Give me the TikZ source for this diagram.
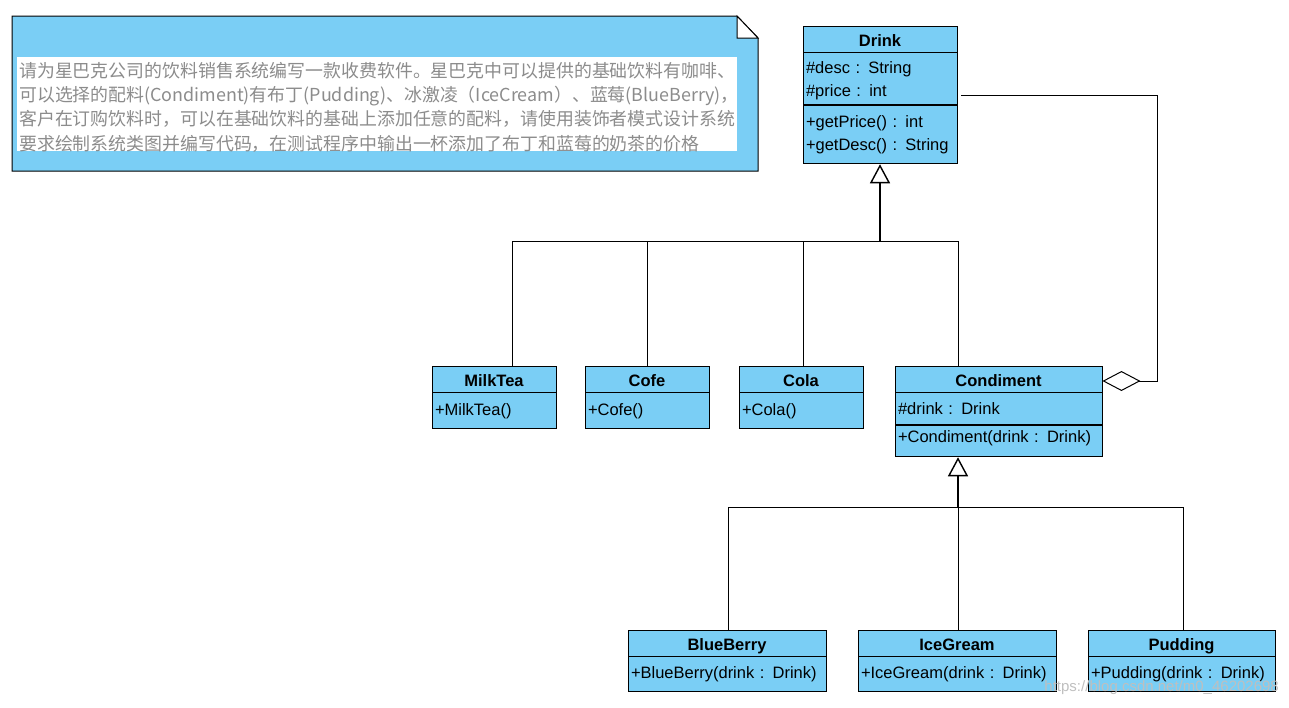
\documentclass[tikz,border=0pt]{standalone}
\usepackage{fontspec}
\setmainfont{Liberation Sans}
\newfontfamily\cjk{Noto Sans CJK SC}
\usepackage{xcolor}
\usetikzlibrary{arrows.meta,positioning,calc}
\definecolor{umlblue}{RGB}{122,206,245}
\definecolor{notegray}{RGB}{140,140,140}

\tikzset{
  cls/.style = {draw, fill = umlblue, line width = .9pt, inner sep = 0pt},
  clshead/.style = {cls, minimum height = 26, text height = 15.5pt, text depth = 0pt, font = \bfseries\fontsize{16.5}{18}\selectfont},
  clsbody/.style = {cls, anchor = north, align = left, inner xsep = 3pt, font = \fontsize{16.5}{23}\selectfont},
  gen/.style = {line width = 1pt},
  inherit/.style = {line width = 2pt, -{Triangle[open, width = 20pt, length = 19pt, line width = 1.4pt]}},
  aggr/.style = {line width = 1pt, {Diamond[open, width = 20pt, length = 38pt, line width = 1pt]}-}
}

\begin{document}
\begin{tikzpicture}[x = 1pt, y = -1pt]
    \useasboundingbox (0,0) rectangle (1289,707);
    % Note
    \draw[fill = umlblue, line width = 1pt] (12,16) -- (737,16) -- (758,38) -- (758,171) -- (12,171) -- cycle;
    \draw[fill = white, line width = 1pt] (737,16) -- (737,38) -- (758,38) -- cycle;
    \fill[white] (17,57) rectangle (737,151);
    \begin{scope}
    \clip (17,57) rectangle (737,151);
    \node[anchor = north west, align = left, inner sep = 0pt, text = notegray, font = \cjk\fontsize{17.9}{24.3}\selectfont] (notetext) at (19,62) {请为星巴克公司的饮料销售系统编写一款收费软件。星巴克中可以提供的基础饮料有咖啡、\\可以选择的配料(Condiment)有布丁(Pudding)、冰激凌（IceCream）、蓝莓(BlueBerry)，\\客户在订购饮料时，可以在基础饮料的基础上添加任意的配料，请使用装饰者模式设计系统\\要求绘制系统类图并编写代码，在测试程序中输出一杯添加了布丁和蓝莓的奶茶的价格};
    \end{scope}
    % Drink
    \node[clshead, minimum width = 154] (drink) at (880,39) {Drink};
    \node[clsbody, text width = 148, minimum height = 52] (drinkattr) at (drink.south) {\rule{0pt}{15pt}\#desc : String\\\#price : int};
    \node[clsbody, text width = 148, minimum height = 58] (drinkops) at (drinkattr.south) {+getPrice() : int\\+getDesc() : String};
    % Concrete drinks
    \node[clshead, minimum width = 124] (milktea) at (494,379) {MilkTea};
    \node[clsbody, text width = 118, minimum height = 36] (milkteaops) at (milktea.south) {+MilkTea()};
    \node[clshead, minimum width = 124] (cofe) at (647,379) {Cofe};
    \node[clsbody, text width = 118, minimum height = 36] (cofeops) at (cofe.south) {+Cofe()};
    \node[clshead, minimum width = 124] (cola) at (801,379) {Cola};
    \node[clsbody, text width = 118, minimum height = 36] (colaops) at (cola.south) {+Cola()};
    % Condiment
    \node[clshead, minimum width = 207] (condiment) at (998.5,379) {Condiment};
    \node[clsbody, text width = 201, minimum height = 32] (condattr) at (condiment.south) {\#drink : Drink};
    \node[clsbody, text width = 201, minimum height = 31, text depth = 9.5pt] (condops) at (condattr.south) {+Condiment(drink : Drink)};
    % Decorators
    \node[clshead, minimum width = 198] (blueberry) at (727,643) {BlueBerry};
    \node[clsbody, text width = 192, minimum height = 35] (blueberryops) at (blueberry.south) {+BlueBerry(drink : Drink)};
    \node[clshead, minimum width = 198] (icegream) at (957,643) {IceGream};
    \node[clsbody, text width = 192, minimum height = 35] (icegreamops) at (icegream.south) {+IceGream(drink : Drink)};
    \node[clshead, minimum width = 187] (pudding) at (1181.5,643) {Pudding};
    \node[clsbody, text width = 181, minimum height = 35] (puddingops) at (pudding.south) {+Pudding(drink : Drink)};
    % Generalization to Drink
    \coordinate (bus) at (880,241);
    \draw[gen] ([xshift = 18pt]milktea.north) |- (bus);
    \draw[gen] (cofe.north) |- (bus);
    \draw[gen] ([xshift = 2pt]cola.north) |- (bus);
    \draw[gen] ([xshift = -40.5pt]condiment.north) |- (bus);
    \draw[inherit] (bus) -- (drinkops.south);
    % Generalization to Condiment
    \coordinate (bus2) at (958,507);
    \draw[gen] ([xshift = 1pt]blueberry.north) |- (bus2);
    \draw[gen] ([xshift = 1pt]icegream.north) |- (bus2);
    \draw[gen] ([xshift = 1.5pt]pudding.north) |- (bus2);
    \draw[inherit] (bus2) -- (bus2 |- condops.south);
    % Aggregation
    \coordinate (aggrturn) at (1157,95);
    \coordinate (aggrend) at (961,95);
    \draw[aggr] ([yshift = -2pt]condiment.east) -| (aggrturn) -- (aggrend);
    % Watermark
    \node[anchor = east, text = black!25, font = \fontsize{15}{15}\selectfont, inner sep = 0pt] (mark) at (1279,688) {https://blog.csdn.net/m0\_46202698};
\end{tikzpicture}
\end{document}
